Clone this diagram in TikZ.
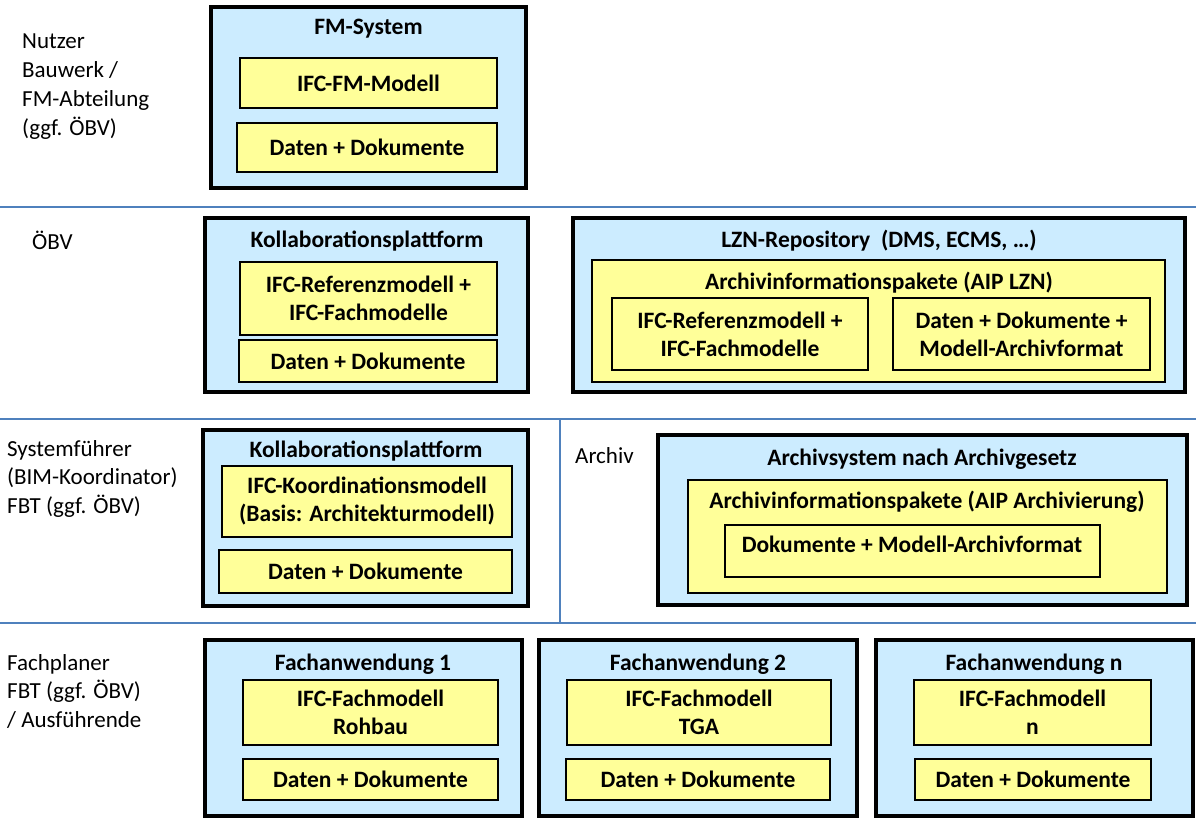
\documentclass[tikz,border=0pt]{standalone}
\usepackage{fontspec}
\setmainfont{Carlito}
\definecolor{bluefill}{RGB}{204,236,255}
\definecolor{yellowfill}{RGB}{255,255,153}
\definecolor{sepline}{RGB}{79,129,189}
\tikzset{
  outerbox/.style={draw=black, fill=bluefill, line width=3.5pt, inner sep=0pt},
  innerbox/.style={draw=black, fill=yellowfill, line width=2.3pt, inner sep=0pt, align=center, font=\bfseries\fontsize{23.5}{28}\selectfont},
  boxtitle/.style={font=\bfseries\fontsize{23.5}{28}\selectfont, inner sep=0pt, anchor=base},
  rolelabel/.style={font=\fontsize{23}{28.8}\selectfont, anchor=base west, inner sep=0pt},
  sep/.style={draw=sepline, line width=1.2pt}
}
\newcommand{\mkbox}[7]{%
  \node[#1, minimum width={(#5-#3)*1pt}, minimum height={(#6-#4)*1pt}] (#2) at ({(#3+#5)/2},{(#4+#6)/2}) {#7};}
\newcommand{\rolelines}[1]{\begin{tabular}[t]{@{}l@{}}#1\end{tabular}}
\begin{document}
\begin{tikzpicture}[x=1pt,y=-1pt]
\useasboundingbox (0,0) rectangle (1196,818);
% separators
\coordinate (s1a) at (0,207); \coordinate (s1b) at (1196,207);
\coordinate (s2a) at (0,419); \coordinate (s2b) at (1196,419);
\coordinate (s3a) at (0,623); \coordinate (s3b) at (1196,623);
\coordinate (v1) at (560,419); \coordinate (v2) at (560,623);
\draw[sep] (s1a) -- (s1b);
\draw[sep] (s2a) -- (s2b);
\draw[sep] (s3a) -- (s3b);
\draw[sep] (v1) -- (v2);
% role labels
\node[rolelabel] (r1) at (22,49) {\rolelines{Nutzer\\Bauwerk /\\FM-Abteilung\\(ggf. ÖBV)}};
\node[rolelabel] (r2) at (32,250) {ÖBV};
\node[rolelabel] (r3) at (7,456) {\rolelines{Systemführer\\(BIM-Koordinator)\\FBT (ggf. ÖBV)}};
\node[rolelabel] (r4) at (575,463) {Archiv};
\node[rolelabel] (r5) at (7,670) {\rolelines{Fachplaner\\FBT (ggf. ÖBV)\\/ Ausführende}};
% Row 1: FM-System
\mkbox{outerbox}{fm}{211}{7}{526}{188}{}
\node[boxtitle] (fmt) at (368.5,35) {FM-System};
\mkbox{innerbox}{fm1}{240}{58}{497}{108}{IFC-FM-Modell}
\mkbox{innerbox}{fm2}{237}{123}{497}{172}{Daten + Dokumente}
% Row 2: Kollaborationsplattform
\mkbox{outerbox}{kp1}{205}{218}{528}{392}{}
\node[boxtitle] (kp1t) at (367,248) {Kollaborationsplattform};
\mkbox{innerbox}{kp1a}{240}{262}{497}{335}{IFC-Referenzmodell +\\IFC-Fachmodelle}
\mkbox{innerbox}{kp1b}{239}{340}{497}{382}{Daten + Dokumente}
% LZN-Repository
\mkbox{outerbox}{lzn}{573}{218}{1185}{392}{}
\node[boxtitle] (lznt) at (879,248) {LZN-Repository~~(DMS, ECMS, \dots)};
\mkbox{innerbox}{aip1}{592}{260}{1165}{382}{}
\node[boxtitle] (aip1t) at (879,290) {Archivinformationspakete (AIP LZN)};
\mkbox{innerbox}{aip1a}{612}{298}{868}{370}{IFC-Referenzmodell +\\IFC-Fachmodelle}
\mkbox{innerbox}{aip1b}{893}{298}{1150}{370}{Daten + Dokumente +\\Modell-Archivformat}
% Row 3: Kollaborationsplattform
\mkbox{outerbox}{kp2}{203}{430}{528}{606}{}
\node[boxtitle] (kp2t) at (366,457) {Kollaborationsplattform};
\mkbox{innerbox}{kp2a}{222}{466}{512}{537}{IFC-Koordinationsmodell\\(Basis: Architekturmodell)}
\mkbox{innerbox}{kp2b}{219}{550}{512}{593}{Daten + Dokumente}
% Archivsystem
\mkbox{outerbox}{as}{658}{435}{1187}{605}{}
\node[boxtitle] (ast) at (922,465) {Archivsystem nach Archivgesetz};
\mkbox{innerbox}{aip2}{688}{480}{1167}{593}{}
\node[boxtitle] (aip2t) at (927,508) {Archivinformationspakete (AIP Archivierung)};
\mkbox{innerbox}{aip2a}{725}{525}{1100}{577}{}
\node[boxtitle] (aip2at) at (912,552) {Dokumente + Modell-Archivformat};
% Row 4: Fachanwendungen
\mkbox{outerbox}{fa1}{205}{640}{522}{816}{}
\node[boxtitle] (fa1t) at (363,670) {Fachanwendung 1};
\mkbox{innerbox}{fa1a}{243}{680}{498}{745}{IFC-Fachmodell\\Rohbau}
\mkbox{innerbox}{fa1b}{243}{759}{498}{800}{Daten + Dokumente}
\mkbox{outerbox}{fa2}{539}{640}{857}{816}{}
\node[boxtitle] (fa2t) at (698,670) {Fachanwendung 2};
\mkbox{innerbox}{fa2a}{567}{680}{831}{745}{IFC-Fachmodell\\TGA}
\mkbox{innerbox}{fa2b}{566}{759}{830}{800}{Daten + Dokumente}
\mkbox{outerbox}{fan}{876}{640}{1193}{816}{}
\node[boxtitle] (fant) at (1034,670) {Fachanwendung n};
\mkbox{innerbox}{fana}{914}{680}{1151}{745}{IFC-Fachmodell\\n}
\mkbox{innerbox}{fanb}{915}{759}{1151}{800}{Daten + Dokumente}
\end{tikzpicture}
\end{document}
